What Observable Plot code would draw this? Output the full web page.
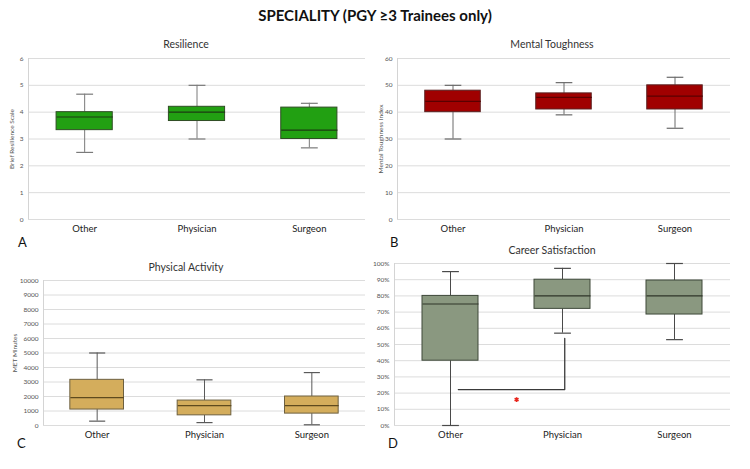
<!DOCTYPE html>
<html>
<head>
<meta charset="utf-8">
<script src="https://cdn.jsdelivr.net/npm/d3@7"></script>
<script src="https://cdn.jsdelivr.net/npm/@observablehq/plot@0.6"></script>
<style>
  html, body { margin: 0; padding: 0; background: #fff; }
  #page { position: relative; width: 750px; height: 469px; overflow: hidden; font-family: Lato, "Open Sans", sans-serif; }
  .panel { position: absolute; }
  .title { position: absolute; left: 0; width: 750px; top: 6px; text-align: center; font-weight: 700; font-size: 15px; color: #111; }
  .ptitle { position: absolute; width: 200px; text-align: center; font-size: 10.5px; color: #333; transform: translate(-100px, -50%); }
  .letter { position: absolute; font-size: 13px; color: #111; }
</style>
</head>
<body>
<div id="page">
  <div class="title">SPECIALITY (PGY ≥3 Trainees only)</div>
</div>
<script>
const categories = ["Other", "Physician", "Surgeon"];

// Five-number summaries per category: [min, q1, median, q3, max]
const resilience = [[2.5, 3.33, 3.82, 4.0, 4.67], [3.0, 3.67, 4.0, 4.2, 5.0], [2.67, 3.0, 3.33, 4.17, 4.33]];
const mentalToughness = [[30, 40, 44, 48, 50], [39, 41, 45.5, 47, 51], [34, 41, 46, 50, 53]];
const physicalActivity = [[300, 1100, 1920, 3150, 5000], [200, 700, 1370, 1720, 3150], [50, 820, 1370, 2000, 3650]];
const careerSatisfaction = [[0, 0.40, 0.75, 0.80, 0.95], [0.57, 0.72, 0.80, 0.90, 0.97], [0.53, 0.685, 0.80, 0.895, 1.0]];

// Significance bracket (Other vs Physician) and its marker, in category-index / value units
const bracketPath = [[0.07, 0.222], [1.02, 0.222], [1.02, 0.537]];
const significanceMark = [[0.59, 0.16]];

const page = document.getElementById("page");

function boxPanel(cfg) {
  const rows = cfg.data.map((s, i) => ({i, min: s[0], q1: s[1], med: s[2], q3: s[3], max: s[4]}));
  const marks = [
    Plot.gridY({ticks: cfg.ticks, stroke: "#dcdcdc", strokeOpacity: 1}),
    Plot.ruleX([-0.5], {stroke: "#d4d4d4"}),
    Plot.axisY({
      ticks: cfg.ticks, tickSize: 0, tickPadding: 5, fontSize: 6.5, fill: "#555",
      tickFormat: cfg.tickFormat || d3.format("d"), label: cfg.label, labelAnchor: "center", labelArrow: "none",
      labelOffset: cfg.labelOffset
    }),
    Plot.axisX({ticks: [0, 1, 2], tickFormat: i => categories[i], tickSize: 0, tickPadding: 6, fontSize: 9.5, fill: "#222", label: null}),
    Plot.ruleX(rows, {x: "i", y1: "q3", y2: "max", stroke: cfg.whisker, strokeWidth: 1}),
    Plot.ruleX(rows, {x: "i", y1: "q1", y2: "min", stroke: cfg.whisker, strokeWidth: 1}),
    Plot.link(rows, {x1: d => d.i - 0.075, x2: d => d.i + 0.075, y1: "max", y2: "max", stroke: cfg.whisker, strokeWidth: 1.2}),
    Plot.link(rows, {x1: d => d.i - 0.075, x2: d => d.i + 0.075, y1: "min", y2: "min", stroke: cfg.whisker, strokeWidth: 1.2}),
    Plot.rect(rows, {x1: d => d.i - 0.25, x2: d => d.i + 0.25, y1: "q1", y2: "q3", fill: cfg.fill, stroke: cfg.stroke, strokeWidth: 1}),
    Plot.link(rows, {x1: d => d.i - 0.25, x2: d => d.i + 0.25, y1: "med", y2: "med", stroke: cfg.medianColor, strokeWidth: 1.2})
  ];
  if (cfg.extra) marks.push(...cfg.extra);
  const svg = Plot.plot({
    width: cfg.width, height: cfg.height,
    marginTop: cfg.mt, marginBottom: cfg.mb, marginLeft: cfg.ml, marginRight: cfg.mr,
    x: {domain: [-0.5, 2.5]},
    y: {domain: cfg.domain},
    style: {fontFamily: "Lato, 'Open Sans', sans-serif", background: "transparent", overflow: "visible"},
    marks
  });
  const wrap = document.createElement("div");
  wrap.className = "panel";
  wrap.style.left = cfg.left + "px";
  wrap.style.top = cfg.top + "px";
  wrap.appendChild(svg);
  page.appendChild(wrap);

  const t = document.createElement("div");
  t.className = "ptitle";
  t.textContent = cfg.title;
  t.style.left = cfg.titleX + "px";
  t.style.top = cfg.titleY + "px";
  page.appendChild(t);

  const l = document.createElement("div");
  l.className = "letter";
  l.textContent = cfg.letter;
  l.style.left = cfg.letterX + "px";
  l.style.top = cfg.letterY + "px";
  page.appendChild(l);
}

boxPanel({
  data: resilience, domain: [0, 6], ticks: d3.range(0, 7, 1), label: "Brief Resilience Scale", labelOffset: 19,
  fill: "#22a012", stroke: "#2f4d24", medianColor: "#1c3a12", whisker: "#7a7a7a",
  left: 0, top: 0, width: 375, height: 240, mt: 58, mb: 21, ml: 28, mr: 10,
  title: "Resilience", titleX: 186, titleY: 44, letter: "A", letterX: 18, letterY: 234
});

boxPanel({
  data: mentalToughness, domain: [0, 60], ticks: d3.range(0, 61, 10), label: "Mental Toughness Index", labelOffset: 19,
  fill: "#a00000", stroke: "#5a2020", medianColor: "#5a0000", whisker: "#6a6a6a",
  left: 375, top: 0, width: 375, height: 240, mt: 58, mb: 21, ml: 22, mr: 20,
  title: "Mental Toughness", titleX: 552, titleY: 44, letter: "B", letterX: 390, letterY: 234
});

boxPanel({
  data: physicalActivity, domain: [0, 10000], ticks: d3.range(0, 10001, 1000), label: "MET Minutes", labelOffset: 31,
  fill: "#d4ad5c", stroke: "#6d6040", medianColor: "#5e4a1e", whisker: "#5a5a5a",
  left: 0, top: 235, width: 375, height: 234, mt: 45, mb: 44, ml: 43, mr: 10,
  title: "Physical Activity", titleX: 186, titleY: 267, letter: "C", letterX: 17, letterY: 435
});

boxPanel({
  data: careerSatisfaction, domain: [0, 1], ticks: d3.range(0, 11).map(k => k / 10), tickFormat: d3.format(".0%"),
  label: null, labelOffset: 0,
  fill: "#8a9880", stroke: "#3e4839", medianColor: "#2e3529", whisker: "#4a4a4a",
  left: 375, top: 235, width: 375, height: 234, mt: 28, mb: 44, ml: 19, mr: 20,
  title: "Career Satisfaction", titleX: 552, titleY: 250, letter: "D", letterX: 388, letterY: 435,
  extra: [
    Plot.line(bracketPath, {x: d => d[0], y: d => d[1], stroke: "#3a3a3a", strokeWidth: 1.3}),
    Plot.dot(significanceMark, {x: d => d[0], y: d => d[1], symbol: "asterisk", r: 2.2, stroke: "#e8251c", strokeWidth: 1.6})
  ]
});
</script>
</body>
</html>
